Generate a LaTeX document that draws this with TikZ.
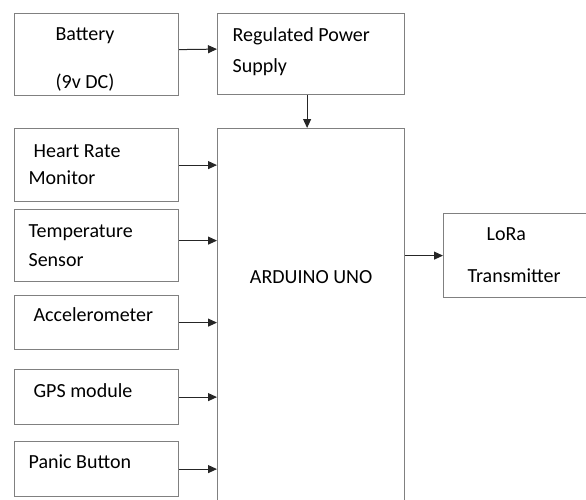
\documentclass[tikz,border=0pt]{standalone}
\usepackage{fontspec}
\setmainfont{Carlito}
\usetikzlibrary{positioning,arrows.meta}

\begin{document}
\begin{tikzpicture}[
        x=1pt, y=-1pt,
        box/.style={rectangle, draw=black!50, line width=1.2pt, anchor=north west, align=flush left, inner ysep=0pt, font=\fontsize{20}{24}\selectfont},
        arrow/.style={-{Triangle[length=9pt,width=8pt]}, line width=1pt, draw=black!85}
    ]
        \useasboundingbox (0,0) rectangle (586,499);
        \node[box, text height=26.5pt, text depth=55.5pt, inner xsep=41pt, text width=82pt] (battery) at (14,13) {Battery\\[24pt](9v DC)};
        \node[box, text height=27.5pt, text depth=53.5pt, inner xsep=15pt, text width=157pt] (supply) at (217,13) {Regulated Power\\[7pt]Supply};
        \node[box, minimum height=73, inner xsep=14pt, text width=136pt] (heart) at (14,128) {\hspace*{5pt}Heart Rate\\[3pt]Monitor};
        \node[box, minimum height=72, inner xsep=14pt, text width=136pt] (temp) at (14,209) {Temperature\\[5pt]Sensor};
        \node[box, text height=25.5pt, text depth=28.5pt, inner xsep=14pt, text width=136pt] (accel) at (14,295) {\hspace*{5pt}Accelerometer};
        \node[box, text height=27.5pt, text depth=27.5pt, inner xsep=14pt, text width=136pt] (gps) at (14,369) {\hspace*{5pt}GPS module};
        \node[box, text height=26.5pt, text depth=28.5pt, inner xsep=14pt, text width=136pt] (panic) at (14,441) {Panic Button};
        \node[box, align=flush center, minimum width=187, text height=155pt, text depth=245pt] (arduino) at (217,128) {ARDUINO UNO};
        \node[box, minimum height=84, inner xsep=24pt, text width=132pt] (lora) at (443,213) {\hspace*{19pt}LoRa\\[18pt]Transmitter};

        \draw[arrow] ([yshift=5pt]battery.east) -- ([yshift=5pt]supply.west);
        \draw[arrow] ([xshift=-4pt]supply.south) -- ([xshift=-4pt]supply.south |- arduino.north);
        \draw[arrow] (heart) -- (heart -| arduino.west);
        \draw[arrow] ([yshift=5pt]temp.east) -- ([yshift=5pt]temp.east -| arduino.west);
        \draw[arrow] (accel) -- (accel -| arduino.west);
        \draw[arrow] (gps) -- (gps -| arduino.west);
        \draw[arrow] (panic) -- (panic -| arduino.west);
        \draw[arrow] (lora -| arduino.east) -- (lora);
    \end{tikzpicture}
\end{document}
